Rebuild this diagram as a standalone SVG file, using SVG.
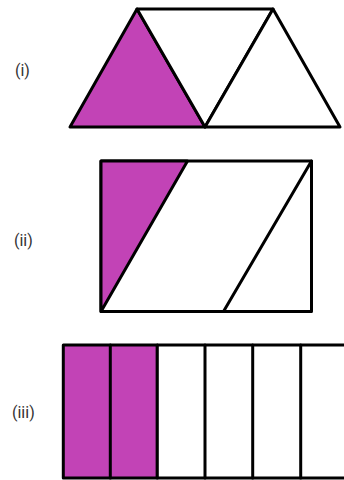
<svg xmlns="http://www.w3.org/2000/svg" width="344" height="480" viewBox="0 0 344 480">
<style>
.s{stroke:#000;stroke-width:3;stroke-linejoin:round;stroke-linecap:round}
.p{fill:#C243B6}
.w{fill:#fff}
.l{font-family:Roboto,"Liberation Sans",sans-serif;font-size:16px;fill:#333}
</style>
<rect width="344" height="480" fill="#fff"/>
<g id="label-i"><text class="l" x="15" y="76">(i)</text></g>
<g id="label-ii"><text class="l" x="14" y="246">(ii)</text></g>
<g id="label-iii"><text class="l" x="12" y="418">(iii)</text></g>
<g id="fig-i">
<polygon class="p s" points="137,9 70,127 205,127"/>
<polygon class="w s" points="137,9 273,9 205,127"/>
<polygon class="w s" points="273,9 340,127 205,127"/>
</g>
<g id="fig-ii">
<rect class="w s" x="101" y="161" width="210.5" height="150.5"/>
<polygon class="p s" points="101,161 187.5,161 101,311.5"/>
<line class="s" x1="223.5" y1="311.5" x2="311.5" y2="161"/>
</g>
<g id="fig-iii">
<rect class="p s" x="63.3" y="345" width="94" height="133"/>
<rect class="w s" x="157.3" y="345" width="192" height="133"/>
<line class="s" x1="110.3" y1="345" x2="110.3" y2="478"/>
<line class="s" x1="205" y1="345" x2="205" y2="478"/>
<line class="s" x1="252.7" y1="345" x2="252.7" y2="478"/>
<line class="s" x1="300.7" y1="345" x2="300.7" y2="478"/>
</g>
</svg>
